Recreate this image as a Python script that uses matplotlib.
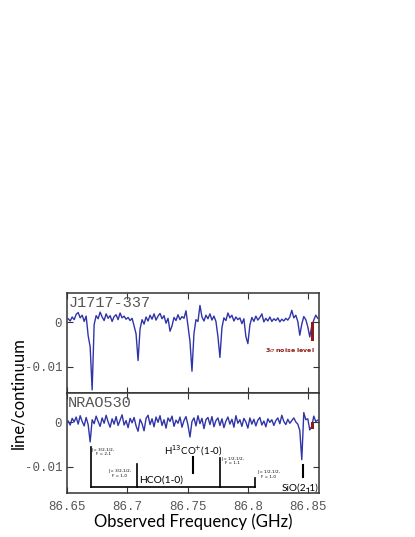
import numpy as np
import matplotlib
matplotlib.use('Agg')
import matplotlib.pyplot as plt

plt.rcParams['axes.unicode_minus'] = False

# spectra, line/continuum in units of 1e-3, one value per channel
j1717 = [0.8, 0.3, 1.2, 0.6, 1.8, 2.2, 1.0, 1.6, 0.2, 1.4,
         -3.0, -5.5, -15.2, -0.5, 1.5, 0.8, 2.3, 1.2, 0.4, 1.9,
         0.9, 1.5, 0.2, 1.3, 1.7, 0.6, 2.1, 1.0, 1.4, 0.7,
         1.1, 0.4, 0.9, -0.8, -2.6, -8.6, -1.5, 0.6, -0.4, 1.2,
         0.3, 1.6, 0.7, 1.9, 0.5, 1.4, 2.0, 0.8, 1.5, -0.2,
         0.9, -2.0, -0.8, 1.1, 0.4, 1.7, 0.6, 1.3, 0.9, 2.6,
         -0.8, -4.3, -11.0, -2.5, 0.6, 0.2, 3.8, 1.2, 0.3, 1.6,
         0.8, 1.9, 0.5, 1.4, 0.2, -3.2, -7.9, -1.2, 1.0, 0.4,
         2.1, 1.0, 1.6, 0.3, 1.2, 0.6, 1.0, -0.3, 0.8, -3.2,
         -4.8, -0.6, 1.1, 0.2, 1.4, 0.5, 1.1, 1.9, 0.1, 0.9,
         0.3, 1.2, 0.2, 0.8, 0.4, 1.0, 0.1, 0.7, 0.3, 0.9,
         0.5, 1.2, 2.7, 1.0, 1.6, 0.2, -2.9, -0.4, 1.3, 0.6,
         -1.0, -3.3, -0.8, 0.5, 1.6, 0.9]
nrao530 = [0.3, -0.6, 0.9, 0.1, 1.2, -0.4, 1.5, 0.2, -0.8, 1.1,
           -0.5, -4.4, 0.6, -0.3, 1.4, 0.2, -0.9, 1.0, -0.2, 1.6,
           0.1, -1.1, 0.8, -0.4, 1.3, -0.7, 0.5, 1.7, -0.6, 0.4,
           -1.2, 0.9, -0.1, 1.1, -0.8, -2.0, 0.7, -0.3, -1.9, 0.9,
           1.6, -0.5, 0.8, -1.0, 1.2, 0.0, 1.5, -0.7, 0.6, -1.3,
           1.0, 0.2, 1.4, -0.9, 0.5, -0.2, 1.2, -1.1, 0.4, 1.3,
           -0.6, -3.3, 0.2, 1.0, -0.8, 1.5, -0.3, 0.9, -1.4, 0.6,
           1.1, -0.5, 1.3, -1.0, 0.4, 1.0, -0.7, 0.8, -1.2, 0.3,
           1.2, -0.4, 0.7, -1.1, 1.5, -0.2, 0.6, -0.9, 0.9, 0.1,
           -1.3, 1.0, -0.4, 0.7, -0.8, 0.5, 1.1, -0.6, 0.3, -1.0,
           0.8, 0.0, 0.6, -0.7, 0.4, 1.0, -0.3, 1.6, 0.2, -0.5,
           0.7, -0.2, 0.4, 1.0, 0.1, -0.4, -1.8, -8.4, 2.2, 0.6,
           0.8, -1.7, -0.9, 1.4, 0.2, 0.5]
f_start, f_stop = 86.651, 86.858

# 3 sigma noise levels (1e-3) and where the bar is drawn
noise_top = 4.2
noise_bot = 1.5
noise_freq = 86.8537

xticks = [86.65, 86.70, 86.75, 86.80, 86.85]
xtick_labels = ['86.65', '86.7', '86.75', '86.8', '86.85']
yticks = [0, -0.01]
ytick_labels = ['0', '-0.01']

# line identifications: (freq, top, bottom)
hco_lines = [(86.6700, -0.0055, -0.0146), (86.7083, -0.0093, -0.0146),
             (86.7769, -0.0080, -0.0146), (86.8060, -0.0126, -0.0146)]
hco_labels = ['J = 3/2-1/2,\nF = 2-1', 'J = 3/2-1/2,\nF = 1-0',
              'J = 1/2-1/2,\nF = 1-1', 'J = 1/2-1/2,\nF = 1-0']
h13co_line = (86.7544, -0.0078, -0.0115)
sio_line = (86.8460, -0.0097, -0.0123)

blue = '#2f35a8'
red = '#8e1b14'
grey = '#555555'
mono = 'Liberation Mono'
sans = 'Lato'

fig = plt.figure(figsize=(4.15, 5.37), dpi=100)
ax1 = fig.add_axes([0.1614, 0.2682, 0.6072, 0.1862])
ax2 = fig.add_axes([0.1614, 0.0819, 0.6072, 0.1862], sharex=ax1)

for ax, spec, name, noise in [(ax1, j1717, 'J1717-337', noise_top),
                              (ax2, nrao530, 'NRAO530', noise_bot)]:
    y = np.array(spec) * 1e-3
    x = np.linspace(f_start, f_stop, len(y))
    ax.plot(x, y, color=blue, lw=1.0)
    ax.bar(noise_freq, -noise * 1e-3, width=0.0024, color=red, zorder=3)
    ax.set_xlim(86.65, 86.859)
    ax.set_ylim(-0.0159, 0.0066)
    ax.set_yticks(yticks)
    ax.set_yticklabels(ytick_labels, family=mono, fontsize=9, color=grey)
    ax.tick_params(direction='in', length=4, top=True, right=True, color='#333333')
    for s in ax.spines.values():
        s.set_color('#333333')
        s.set_linewidth(1.1)
    ax.text(0.005, 0.97, name, transform=ax.transAxes, family=mono, fontsize=11,
            color=grey, va='top', ha='left')

ax2.set_xticks(xticks)
ax2.set_xticklabels(xtick_labels, family=mono, fontsize=9, color=grey)
ax2.tick_params(axis='x', pad=6)
ax1.tick_params(labelbottom=False)

ax1.text(86.8345, -0.0062, '3$\\sigma$ noise level', color=red, fontsize=4.5,
         fontweight='bold', ha='center', va='center')

# HCO hyperfine bracket
for f, top, bot in hco_lines:
    ax2.plot([f, f], [top, bot], color='black', lw=1.2)
ax2.plot([hco_lines[0][0], hco_lines[-1][0]], [-0.0146, -0.0146], color='black', lw=1.2)
ax2.text(86.6705, -0.0067, hco_labels[0], fontsize=3, ha='left', va='center',
         multialignment='center')
ax2.text(86.7035, -0.0115, hco_labels[1], fontsize=3, ha='right', va='center',
         multialignment='center')
ax2.text(86.7778, -0.0087, hco_labels[2], fontsize=3, ha='left', va='center',
         multialignment='center')
ax2.text(86.8075, -0.0117, hco_labels[3], fontsize=3, ha='left', va='center',
         multialignment='center')
ax2.text(86.7100, -0.0130, 'HCO(1-0)', family=sans, fontsize=7.4, ha='left', va='center')

ax2.plot([h13co_line[0]] * 2, h13co_line[1:], color='black', lw=1.5)
ax2.text(86.7545, -0.0063, 'H$^{13}$CO$^{+}$(1-0)', family=sans, fontsize=7,
         ha='center', va='center')

ax2.plot([sio_line[0]] * 2, sio_line[1:], color='black', lw=1.5)
ax2.text(86.8585, -0.0149, 'SiO(2-1)', family=sans, fontsize=7.2, ha='right', va='center')

fig.text(0.045, 0.268, 'line/continuum', rotation=90, family=sans, fontsize=12,
         ha='center', va='center')
fig.text(0.4651, 0.028, 'Observed Frequency (GHz)', family=sans, fontsize=12,
         ha='center', va='center')

fig.savefig('out.png', dpi=100)
